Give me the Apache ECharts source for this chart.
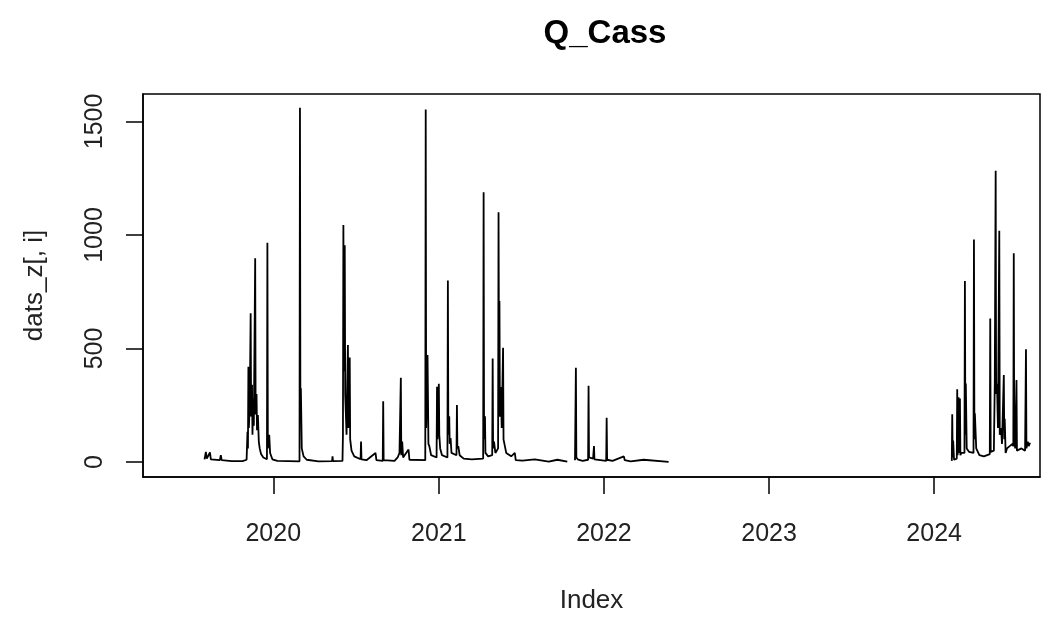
<!DOCTYPE html>
<html>
<head>
<meta charset="utf-8">
<script src="https://cdn.jsdelivr.net/npm/echarts@6/dist/echarts.min.js"></script>
<style>
html,body{margin:0;padding:0;background:#fff;}
#chart{width:1053px;height:617px;}
</style>
</head>
<body>
<div id="chart"></div>
<script>
// ---- data (null = missing/gap) ----
const title = 'Q_Cass';
const xName = 'Index';
const yName = 'dats_z[, i]';
const yearTicks = ['2020-01-01','2021-01-01','2022-01-01','2023-01-01','2024-01-01'];
const yTicks = [0, 500, 1000, 1500];

const dates1 = ['2019-08-02','2019-08-05','2019-08-07','2019-08-14','2019-08-16','2019-09-05','2019-09-07','2019-09-09','2019-10-01','2019-10-25',
'2019-11-03','2019-11-05','2019-11-06','2019-11-07','2019-11-08','2019-11-10','2019-11-12','2019-11-13','2019-11-15','2019-11-16',
'2019-11-18','2019-11-19','2019-11-22','2019-11-23','2019-11-25','2019-11-26','2019-11-28','2019-11-30','2019-12-02','2019-12-05',
'2019-12-10','2019-12-18','2019-12-19','2019-12-20','2019-12-23','2019-12-25','2019-12-30','2020-01-10','2020-02-28','2020-02-29',
'2020-03-01','2020-03-02','2020-03-04','2020-03-08','2020-03-15','2020-04-10','2020-05-10','2020-05-11','2020-05-12','2020-06-02',
'2020-06-03','2020-06-04','2020-06-05','2020-06-07','2020-06-08','2020-06-11','2020-06-12','2020-06-14','2020-06-15','2020-06-18',
'2020-06-19','2020-06-22','2020-06-28','2020-07-12','2020-07-13','2020-07-14','2020-07-25','2020-08-14','2020-08-16','2020-08-30',
'2020-08-31','2020-09-01','2020-09-25','2020-10-02','2020-10-06','2020-10-09','2020-10-10','2020-10-12','2020-10-14','2020-10-26',
'2020-10-28','2020-12-02','2020-12-03','2020-12-04','2020-12-07','2020-12-09','2020-12-11','2020-12-15','2020-12-27','2020-12-28',
'2020-12-29','2021-01-01','2021-01-02','2021-01-04','2021-01-08','2021-01-20','2021-01-21','2021-01-22','2021-01-24','2021-01-25',
'2021-01-27','2021-01-29','2021-02-09','2021-02-10','2021-02-11','2021-02-13','2021-02-16','2021-02-25','2021-03-15','2021-04-09',
'2021-04-10','2021-04-11','2021-04-13','2021-04-14','2021-04-20','2021-04-29','2021-04-30','2021-05-01','2021-05-03','2021-05-06',
'2021-05-12','2021-05-13','2021-05-14','2021-05-15','2021-05-16','2021-05-18','2021-05-20','2021-05-23','2021-05-24','2021-05-26',
'2021-05-30','2021-06-10','2021-06-18','2021-06-20','2021-07-05','2021-08-01','2021-08-03','2021-09-01','2021-09-20','2021-09-22',
'2021-10-12','2021-10-14','2021-10-29','2021-10-31','2021-11-01','2021-11-05','2021-11-15','2021-11-27','2021-11-28','2021-11-29',
'2021-12-08','2021-12-10','2021-12-11','2022-01-06','2022-01-07','2022-01-08','2022-01-20','2022-02-14','2022-02-16','2022-03-01',
'2022-03-30','2022-04-01','2022-05-24'];
const values1 = [12,45,15,42,12,8,30,8,4,4,
10,133,60,420,150,250,655,200,340,120,
280,160,897,210,300,140,207,90,60,35,
20,12,966,60,120,40,12,5,3,1560,
200,325,60,25,10,3,4,25,4,5,
117,1044,400,955,300,120,280,515,150,460,
100,50,25,12,90,12,8,40,8,5,
268,8,5,20,40,371,30,90,20,55,
10,8,1553,150,471,80,70,30,20,332,
100,345,120,60,30,20,799,120,202,80,
105,40,30,251,60,70,30,15,12,15,
1188,100,202,40,25,30,456,60,90,40,
60,1100,400,709,200,330,150,503,100,105,
40,25,40,8,6,12,5,2,10,2,
2,null,8,415,20,10,5,10,336,20,
15,70,12,5,195,10,5,25,8,3,
10,2,1];

const dates2 = ['2024-02-09','2024-02-10','2024-02-11','2024-02-12','2024-02-14','2024-02-20','2024-02-21','2024-02-22','2024-02-24','2024-02-25',
'2024-02-27','2024-02-28','2024-03-01','2024-03-08','2024-03-09','2024-03-10','2024-03-11','2024-03-13','2024-03-18','2024-03-28','2024-03-29',
'2024-03-30','2024-03-31','2024-04-03','2024-04-10','2024-04-20','2024-05-03','2024-05-04','2024-05-05','2024-05-12','2024-05-14',
'2024-05-16','2024-05-17','2024-05-19','2024-05-21','2024-05-24','2024-05-25','2024-05-28','2024-05-30','2024-06-03','2024-06-04',
'2024-06-05','2024-06-07','2024-06-10','2024-06-22','2024-06-24','2024-06-25','2024-06-26','2024-06-27','2024-06-28','2024-07-01','2024-07-02',
'2024-07-06','2024-07-12','2024-07-20','2024-07-21','2024-07-22','2024-07-23','2024-07-26','2024-07-28','2024-07-31'];
const values2 = [5,210,20,95,10,15,321,30,285,40,
280,30,40,40,797,120,346,60,45,40,980,
100,215,60,30,25,35,632,45,50,345,
1283,300,345,150,1019,120,150,80,383,100,
190,40,60,80,70,919,100,210,60,361,50,
45,60,50,55,497,60,90,70,85];

// ---- chart ----
function ts(s){ const p = s.split('-').map(Number); return Date.UTC(p[0], p[1]-1, p[2]); }
const seriesData = [];
dates1.forEach((d,i)=>seriesData.push([ts(d), values1[i]]));
seriesData.push([ts('2023-01-01'), null]);
dates2.forEach((d,i)=>seriesData.push([ts(d), values2[i]]));

const font = '"Liberation Sans", Arial, sans-serif';
const chart = echarts.init(document.getElementById('chart'), null, {renderer:'canvas'});
chart.setOption({
  animation: false,
  backgroundColor: '#fff',
  title: {
    text: title, left: 600, top: 12, textAlign: 'center',
    textStyle: {fontFamily: font, fontWeight: 'bold', fontSize: 33, color: '#000'}
  },
  grid: {left: 143, right: 13, top: 94, bottom: 140, containLabel: false, outerBoundsMode: 'none',
    show: true, borderColor: '#000', borderWidth: 1.5, backgroundColor: 'transparent'},
  xAxis: {
    type: 'value',
    min: ts('2019-03-19'), max: ts('2024-08-22'),
    name: xName, nameLocation: 'middle', nameGap: 111,
    nameTextStyle: {fontFamily: font, fontSize: 26, color: '#222'},
    axisLine: {show: true, onZero: false, lineStyle: {color: '#000', width: 1.5}},
    axisTick: {show: true, length: 17, inside: false, customValues: yearTicks.map(ts), lineStyle: {color: '#000', width: 1.5}},
    axisLabel: {customValues: yearTicks.map(ts), margin: 45, fontFamily: font, fontSize: 25, color: '#222',
      formatter: v => String(new Date(v).getUTCFullYear())},
    splitLine: {show: false}
  },
  yAxis: {
    type: 'value', min: -66, max: 1621,
    name: yName, nameLocation: 'middle', nameGap: 95, nameRotate: 90,
    nameTextStyle: {fontFamily: font, fontSize: 26, color: '#222'},
    axisLine: {show: true, onZero: false, lineStyle: {color: '#000', width: 1.5}},
    axisTick: {show: true, length: 17, customValues: yTicks, lineStyle: {color: '#000', width: 1.5}},
    axisLabel: {customValues: yTicks, rotate: 90, margin: 35, fontFamily: font, fontSize: 25, color: '#222',
      formatter: v => String(v)},
    splitLine: {show: false}
  },
  series: [{
    type: 'line', data: seriesData, showSymbol: false, connectNulls: false,
    lineStyle: {color: '#000', width: 1.8}, itemStyle: {color: '#000'}
  }]
});
</script>
</body>
</html>
